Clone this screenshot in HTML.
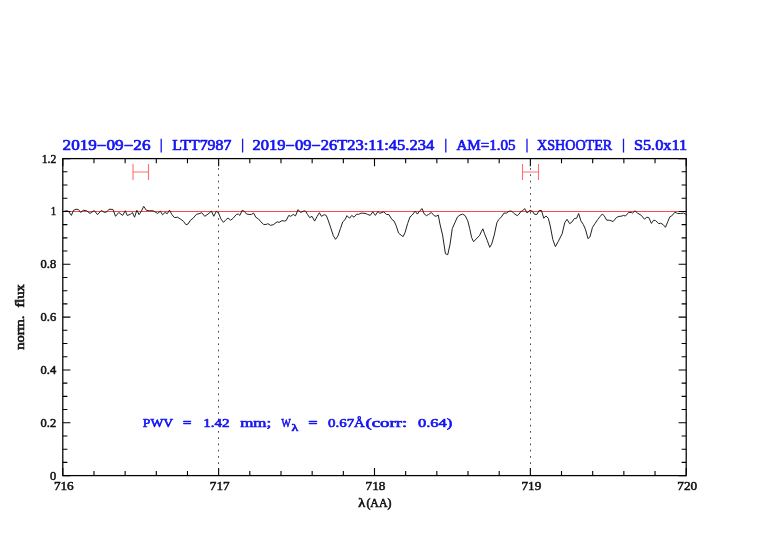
<!DOCTYPE html>
<html><head><meta charset="utf-8"><title>plot</title>
<style>
html,body{margin:0;padding:0;background:#fff;}
body{width:782px;height:542px;overflow:hidden;font-family:"Liberation Serif",serif;}
svg{display:block;will-change:transform;opacity:0.999}
text{font-family:"Liberation Serif",serif;}
.tl{font-weight:normal;fill:#111;stroke:#111;stroke-width:0.5px;}
.bl{font-weight:normal;fill:#1414f5;stroke:#1414f5;stroke-width:0.65px;stroke-linejoin:round;}
.al{font-weight:normal;fill:#111;stroke:#111;stroke-width:0.6px;}
</style></head><body>
<svg width="782" height="542" viewBox="0 0 782 542">
<rect width="782" height="542" fill="#fff"/>
<path d="M218.5 168.1 V475 M530.5 168.1 V475" stroke="#4a4a4a" stroke-width="1" stroke-dasharray="1.7 4.56" fill="none"/>
<path d="M62.8 211.5 H686.2" stroke="#ff4848" stroke-width="1" fill="none"/>
<polyline points="63.62,211.54 65.81,210.76 68.4,211.15 71.37,215.41 73.57,210.25 76.15,209.21 78.35,209.47 80.67,212.44 83.26,210.25 86.49,210.76 89.97,213.48 94.24,210.5 97.47,214.64 101.34,210.5 104.57,212.44 106.77,211.8 109.1,209.21 112.97,209.47 115.56,216.32 118.79,212.44 122.66,215.41 125.25,210.76 127.18,215.41 130.41,214.38 132.35,212.44 134.55,217.22 136.87,210.25 139.07,214.64 141.4,211.15 143.72,206.37 146.3,210.25 149.15,210.76 153.02,210.76 154.96,211.8 157.58,213.48 160.43,211.15 162.49,214.77 165.08,212.44 167.27,213.73 169.47,210.12 171.8,214.38 174.38,217.61 177.61,217.22 180.84,219.29 183.42,221.23 186.01,224.72 187.95,224.07 190.53,220.19 193.11,218.26 196.34,214.38 198.93,213.73 201.77,212.7 204.74,216.32 207.97,214.12 211.46,211.15 213.79,216.32 216.37,211.15 218.57,213.09 220.89,218.9 223.48,222.39 225.8,219.81 228.0,218.0 230.58,220.19 233.17,218.26 236.4,214.38 238.33,214.12 239.88,215.41 242.21,210.25 244.15,211.15 246.73,214.12 249.96,214.51 251.55,214.38 253.62,213.09 255.81,217.22 258.4,218.9 260.98,221.87 263.57,224.46 266.15,224.46 267.83,223.68 270.67,225.36 273.26,224.72 277.13,221.87 279.07,222.39 282.04,220.58 284.24,221.1 286.18,220.58 288.76,215.41 290.7,216.32 293.28,214.38 295.48,215.93 298.06,209.6 300.65,212.44 304.26,210.76 305.56,211.15 307.49,214.38 309.69,217.61 312.02,216.32 314.6,221.1 317.18,216.32 319.38,212.7 321.45,216.32 324.29,214.64 326.23,215.41 328.17,220.19 330.75,227.95 333.33,235.7 335.53,239.32 337.86,236.09 340.44,228.59 342.76,221.87 344.96,219.81 346.94,215.67 349.52,218.26 351.72,215.41 354.04,217.22 356.63,214.12 358.57,214.38 361.15,213.09 365.03,213.35 367.61,214.38 370.19,215.41 372.78,211.8 375.36,215.41 377.95,211.54 379.88,213.35 383.76,211.8 386.34,214.38 388.93,214.64 391.77,219.29 394.1,221.1 396.03,225.36 398.62,233.11 401.2,235.31 403.14,236.6 405.08,232.47 407.66,223.42 409.99,216.96 412.18,215.03 415.16,211.15 417.35,214.12 419.94,210.5 422.13,208.57 424.07,213.73 426.4,215.67 428.72,214.38 431.3,212.44 434.15,215.67 436.09,216.32 438.28,215.03 439.96,224.07 442.58,235.05 445.43,253.79 447.75,254.69 450.08,244.1 452.27,228.59 454.86,222.78 457.44,216.96 460.03,215.03 462.61,214.12 465.19,215.67 467.78,220.84 469.72,228.59 471.65,237.64 473.59,241.77 476.18,238.93 479.41,235.7 481.6,231.18 482.89,228.85 484.57,233.76 487.16,240.22 489.74,247.33 491.68,244.1 494.26,235.05 496.85,222.78 498.79,219.55 501.37,216.96 503.95,213.09 506.54,213.09 509.12,211.15 511.71,211.15 514.29,213.73 517.26,215.67 519.07,214.12 520.75,211.54 522.69,210.76 524.63,208.57 527.21,213.09 529.79,210.25 532.38,211.15 534.32,214.12 535.0,214.38 536.94,214.38 539.13,210.5 541.46,210.5 543.79,218.26 545.98,215.93 548.31,218.26 550.25,226.01 552.83,239.57 555.41,246.68 558.26,241.51 562.13,233.76 564.72,222.78 567.04,219.29 569.63,223.68 571.82,222.13 574.41,218.51 576.6,218.26 578.67,213.48 580.87,220.84 583.45,224.72 585.65,229.88 587.97,238.67 589.91,236.99 592.49,227.3 595.08,223.42 597.66,219.55 600.25,216.32 602.18,214.12 604.12,215.67 606.71,220.19 609.29,220.19 613.17,221.49 616.4,217.61 618.98,216.32 620.92,216.32 623.5,215.41 625.44,216.06 628.67,212.44 631.25,212.44 632.55,213.09 635.0,210.76 637.47,213.09 641.34,215.41 644.57,219.29 646.51,217.22 648.84,217.61 651.42,223.42 653.62,220.19 655.56,220.58 658.79,223.68 660.72,223.17 663.31,224.72 665.5,227.3 667.83,221.49 669.77,216.96 671.71,215.93 674.94,212.18 677.52,213.48 680.75,213.48 683.72,213.09 686.3,214.64" fill="none" stroke="#222" stroke-width="1" stroke-linejoin="round"/>
<g stroke="#ff7070" stroke-width="1.1" fill="none">
<path d="M133 164 V180 M148.5 164 V180 M133 172 H148.5"/>
<path d="M522.5 164 V180 M538.5 164 V180 M522.5 172 H538.5"/>
</g>
<rect x="62.8" y="158.6" width="623.40" height="317.00" fill="none" stroke="#000" stroke-width="1.25"/>
<path d="M62.80 475.6 v-7.6 M62.80 158.6 v7.6 M93.97 475.6 v-4.6 M93.97 158.6 v4.6 M125.14 475.6 v-4.6 M125.14 158.6 v4.6 M156.31 475.6 v-4.6 M156.31 158.6 v4.6 M187.48 475.6 v-4.6 M187.48 158.6 v4.6 M218.65 475.6 v-7.6 M218.65 158.6 v7.6 M249.82 475.6 v-4.6 M249.82 158.6 v4.6 M280.99 475.6 v-4.6 M280.99 158.6 v4.6 M312.16 475.6 v-4.6 M312.16 158.6 v4.6 M343.33 475.6 v-4.6 M343.33 158.6 v4.6 M374.50 475.6 v-7.6 M374.50 158.6 v7.6 M405.67 475.6 v-4.6 M405.67 158.6 v4.6 M436.84 475.6 v-4.6 M436.84 158.6 v4.6 M468.01 475.6 v-4.6 M468.01 158.6 v4.6 M499.18 475.6 v-4.6 M499.18 158.6 v4.6 M530.35 475.6 v-7.6 M530.35 158.6 v7.6 M561.52 475.6 v-4.6 M561.52 158.6 v4.6 M592.69 475.6 v-4.6 M592.69 158.6 v4.6 M623.86 475.6 v-4.6 M623.86 158.6 v4.6 M655.03 475.6 v-4.6 M655.03 158.6 v4.6 M686.20 475.6 v-7.6 M686.20 158.6 v7.6 M62.8 475.60 h7.6 M686.2 475.60 h-7.6 M62.8 462.39 h4.6 M686.2 462.39 h-4.6 M62.8 449.18 h4.6 M686.2 449.18 h-4.6 M62.8 435.98 h4.6 M686.2 435.98 h-4.6 M62.8 422.77 h7.6 M686.2 422.77 h-7.6 M62.8 409.56 h4.6 M686.2 409.56 h-4.6 M62.8 396.35 h4.6 M686.2 396.35 h-4.6 M62.8 383.14 h4.6 M686.2 383.14 h-4.6 M62.8 369.93 h7.6 M686.2 369.93 h-7.6 M62.8 356.73 h4.6 M686.2 356.73 h-4.6 M62.8 343.52 h4.6 M686.2 343.52 h-4.6 M62.8 330.31 h4.6 M686.2 330.31 h-4.6 M62.8 317.10 h7.6 M686.2 317.10 h-7.6 M62.8 303.89 h4.6 M686.2 303.89 h-4.6 M62.8 290.68 h4.6 M686.2 290.68 h-4.6 M62.8 277.48 h4.6 M686.2 277.48 h-4.6 M62.8 264.27 h7.6 M686.2 264.27 h-7.6 M62.8 251.06 h4.6 M686.2 251.06 h-4.6 M62.8 237.85 h4.6 M686.2 237.85 h-4.6 M62.8 224.64 h4.6 M686.2 224.64 h-4.6 M62.8 211.43 h7.6 M686.2 211.43 h-7.6 M62.8 198.22 h4.6 M686.2 198.22 h-4.6 M62.8 185.02 h4.6 M686.2 185.02 h-4.6 M62.8 171.81 h4.6 M686.2 171.81 h-4.6 M62.8 158.60 h7.6 M686.2 158.60 h-7.6" stroke="#000" stroke-width="1.1" fill="none"/>
<text x="53.9" y="490.1" class="tl" font-size="11.6" textLength="19.8" lengthAdjust="spacingAndGlyphs" xml:space="preserve" >716</text><text x="209.8" y="490.1" class="tl" font-size="11.6" textLength="19.8" lengthAdjust="spacingAndGlyphs" xml:space="preserve" >717</text><text x="365.6" y="490.1" class="tl" font-size="11.6" textLength="19.8" lengthAdjust="spacingAndGlyphs" xml:space="preserve" >718</text><text x="521.5" y="490.1" class="tl" font-size="11.6" textLength="19.8" lengthAdjust="spacingAndGlyphs" xml:space="preserve" >719</text><text x="677.3" y="490.1" class="tl" font-size="11.6" textLength="19.8" lengthAdjust="spacingAndGlyphs" xml:space="preserve" >720</text>
<text x="50.0" y="479.5" class="tl" font-size="11.6" textLength="6.2" lengthAdjust="spacingAndGlyphs" xml:space="preserve" >0</text><text x="40.6" y="426.7" class="tl" font-size="11.6" textLength="15.6" lengthAdjust="spacingAndGlyphs" xml:space="preserve" >0.2</text><text x="40.6" y="373.8" class="tl" font-size="11.6" textLength="15.6" lengthAdjust="spacingAndGlyphs" xml:space="preserve" >0.4</text><text x="40.6" y="321.0" class="tl" font-size="11.6" textLength="15.6" lengthAdjust="spacingAndGlyphs" xml:space="preserve" >0.6</text><text x="40.6" y="268.2" class="tl" font-size="11.6" textLength="15.6" lengthAdjust="spacingAndGlyphs" xml:space="preserve" >0.8</text><text x="50.8" y="215.3" class="tl" font-size="11.6" textLength="5.4" lengthAdjust="spacingAndGlyphs" xml:space="preserve" >1</text><text x="41.7" y="162.5" class="tl" font-size="11.6" textLength="14.5" lengthAdjust="spacingAndGlyphs" xml:space="preserve" >1.2</text>
<text x="62.6" y="150.1" class="bl" font-size="13.6" textLength="87.9" lengthAdjust="spacingAndGlyphs" xml:space="preserve" >2019−09−26</text><text x="172.2" y="150.1" class="bl" font-size="13.6" textLength="59.1" lengthAdjust="spacingAndGlyphs" xml:space="preserve" >LTT7987</text><text x="252.6" y="150.1" class="bl" font-size="13.6" textLength="181.6" lengthAdjust="spacingAndGlyphs" xml:space="preserve" >2019−09−26T23:11:45.234</text><text x="456.4" y="150.1" class="bl" font-size="13.6" textLength="59.1" lengthAdjust="spacingAndGlyphs" xml:space="preserve" >AM=1.05</text><text x="537.0" y="150.1" class="bl" font-size="13.6" textLength="75.2" lengthAdjust="spacingAndGlyphs" xml:space="preserve" >XSHOOTER</text><text x="633.9" y="150.1" class="bl" font-size="13.6" textLength="53.2" lengthAdjust="spacingAndGlyphs" xml:space="preserve" >S5.0x11</text>
<path d="M161.2 138.7 V152.4 M242.6 138.7 V152.4 M445.8 138.7 V152.4 M527.0 138.7 V152.4 M623.5 138.7 V152.4 " stroke="#1414f5" stroke-width="1.3" fill="none"/>
<text x="142.8" y="427.3" class="bl" font-size="13.3" textLength="30.4" lengthAdjust="spacingAndGlyphs" xml:space="preserve" >PWV</text><text x="182.8" y="427.3" class="bl" font-size="13.3" textLength="8.8" lengthAdjust="spacingAndGlyphs" xml:space="preserve" >=</text><text x="203.2" y="427.3" class="bl" font-size="13.3" textLength="26.5" lengthAdjust="spacingAndGlyphs" xml:space="preserve" >1.42</text><text x="240.2" y="427.3" class="bl" font-size="13.3" textLength="31.1" lengthAdjust="spacingAndGlyphs" xml:space="preserve" >mm;</text><text x="281.2" y="427.3" class="bl" font-size="13.3" textLength="9.6" lengthAdjust="spacingAndGlyphs" xml:space="preserve" >W</text><text x="308.2" y="427.3" class="bl" font-size="13.3" textLength="9.3" lengthAdjust="spacingAndGlyphs" xml:space="preserve" >=</text><text x="328.0" y="427.3" class="bl" font-size="13.3" textLength="36.9" lengthAdjust="spacingAndGlyphs" xml:space="preserve" >0.67Å</text><text x="365.4" y="427.3" class="bl" font-size="13.3" textLength="41.8" lengthAdjust="spacingAndGlyphs" xml:space="preserve" >(corr:</text><text x="418.0" y="427.3" class="bl" font-size="13.3" textLength="34.3" lengthAdjust="spacingAndGlyphs" xml:space="preserve" >0.64)</text>
<text x="291.6" y="431.2" class="bl" font-size="10.8" textLength="6.8" lengthAdjust="spacingAndGlyphs">λ</text>
<text x="358.3" y="506.8" class="al" font-size="11.6" textLength="7.0" lengthAdjust="spacingAndGlyphs">λ</text><text x="366.4" y="506.8" class="al" font-size="11.6" textLength="25.0" lengthAdjust="spacingAndGlyphs">(AA)</text>
<g transform="translate(23.5 349.7) rotate(-90)">
<text x="0" y="0" class="al" font-size="12.5" textLength="34.2" lengthAdjust="spacingAndGlyphs">norm.</text>
<text x="42.2" y="0" class="al" font-size="12.5" textLength="23.4" lengthAdjust="spacingAndGlyphs">flux</text>
</g>
</svg>
</body></html>
